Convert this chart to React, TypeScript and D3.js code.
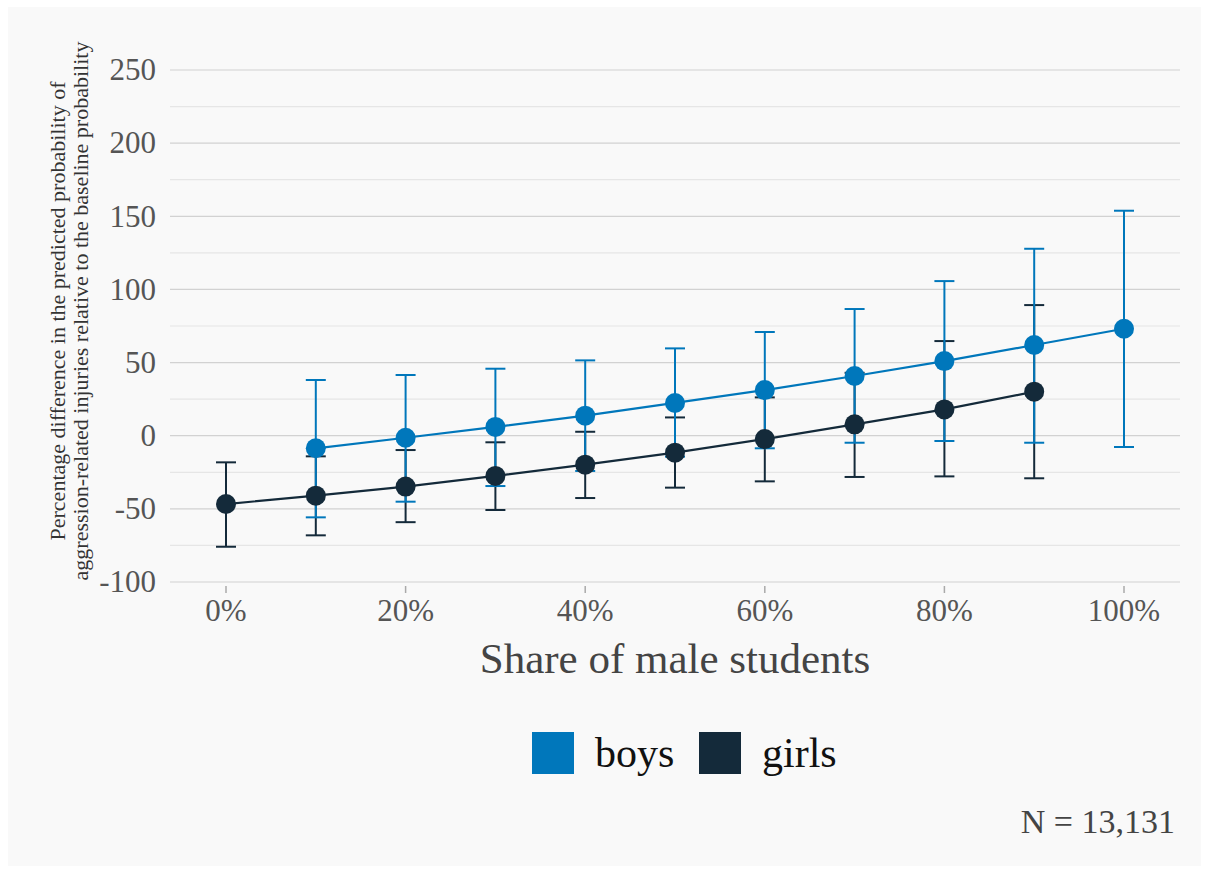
import React from "react";
import * as d3 from "d3";

// Share of male students in the class (x positions)
const shares = [0, 0.1, 0.2, 0.3, 0.4, 0.5, 0.6, 0.7, 0.8, 0.9, 1.0];

// Boys: estimate and 95% interval (no estimate at 0%)
const boysShares = [0.1, 0.2, 0.3, 0.4, 0.5, 0.6, 0.7, 0.8, 0.9, 1.0];
const boysEst = [-8.6, -1.4, 6.0, 13.7, 22.4, 31.2, 40.8, 51.0, 62.0, 73.1];
const boysLow = [-55.8, -45.1, -34.4, -24.1, -14.3, -8.6, -4.8, -3.6, -4.8, -7.7];
const boysHigh = [38.1, 41.5, 45.8, 51.5, 59.7, 70.9, 86.6, 105.7, 127.8, 153.8];

// Girls: estimate and 95% interval (no estimate at 100%)
const girlsShares = [0, 0.1, 0.2, 0.3, 0.4, 0.5, 0.6, 0.7, 0.8, 0.9];
const girlsEst = [-46.7, -41.0, -34.8, -27.5, -19.8, -11.6, -2.3, 7.8, 18.0, 30.1];
const girlsLow = [-75.9, -68.1, -59.1, -50.8, -42.6, -35.5, -31.2, -28.2, -27.8, -29.1];
const girlsHigh = [-18.2, -14.1, -9.8, -4.5, 2.7, 12.5, 26.2, 43.0, 64.7, 89.3];

const xTickLabels = ["0%", "20%", "40%", "60%", "80%", "100%"];
const xTickValues = [0, 0.2, 0.4, 0.6, 0.8, 1.0];
const yMajorTicks = [-100, -50, 0, 50, 100, 150, 200, 250];
const yMinorTicks = [-75, -25, 25, 75, 125, 175, 225];

const seriesNames = ["boys", "girls"];
const BOYS = "#0077bb";
const GIRLS = "#142a3a";

const W = 1209;
const H = 873;
const FONT = "'Liberation Serif', 'Times New Roman', serif";

export default function App() {
  const x = d3.scaleLinear().domain([0, 1]).range([226, 1124]);
  const y = d3.scaleLinear().domain([-100, 250]).range([582, 70]);
  const gridX0 = 170;
  const gridX1 = 1180;
  const capHalf = 10;

  const boys = boysShares.map((s, i) => ({
    s,
    est: boysEst[i],
    lo: boysLow[i],
    hi: boysHigh[i],
  }));
  const girls = girlsShares.map((s, i) => ({
    s,
    est: girlsEst[i],
    lo: girlsLow[i],
    hi: girlsHigh[i],
  }));

  const line = d3
    .line<{ s: number; est: number }>()
    .x((d) => x(d.s))
    .y((d) => y(d.est));

  const errorBars = (data: typeof boys, color: string, key: string) =>
    data.map((d, i) => (
      <g key={`${key}-eb-${i}`} stroke={color} strokeWidth={2}>
        <line x1={x(d.s)} x2={x(d.s)} y1={y(d.lo)} y2={y(d.hi)} />
        <line x1={x(d.s) - capHalf} x2={x(d.s) + capHalf} y1={y(d.hi)} y2={y(d.hi)} />
        <line x1={x(d.s) - capHalf} x2={x(d.s) + capHalf} y1={y(d.lo)} y2={y(d.lo)} />
      </g>
    ));

  return (
    <svg
      width={W}
      height={H}
      style={{ position: "absolute", left: 0, top: 0, display: "block" }}
      fontFamily={FONT}
    >
      <rect x={0} y={0} width={W} height={H} fill="#ffffff" />
      <rect x={8} y={7} width={1193} height={859} fill="#f9f9f9" />

      {/* grid */}
      {yMinorTicks.map((t) => (
        <line key={`mi-${t}`} x1={gridX0} x2={gridX1} y1={y(t)} y2={y(t)} stroke="#e6e6e6" strokeWidth={1.2} />
      ))}
      {yMajorTicks.map((t) => (
        <line key={`ma-${t}`} x1={gridX0} x2={gridX1} y1={y(t)} y2={y(t)} stroke="#d2d2d2" strokeWidth={1.2} />
      ))}

      {/* y tick labels */}
      {yMajorTicks.map((t) => (
        <text key={`yl-${t}`} x={156} y={y(t)} dy="0.33em" textAnchor="end" fontSize={31} fill="#555555">
          {t}
        </text>
      ))}

      {/* x ticks */}
      {xTickValues.map((v, i) => (
        <g key={`xt-${i}`}>
          <line x1={x(v)} x2={x(v)} y1={586} y2={593} stroke="#aaaaaa" strokeWidth={1.5} />
          <text x={x(v)} y={621} textAnchor="middle" fontSize={31} fill="#555555">
            {xTickLabels[i]}
          </text>
        </g>
      ))}

      {/* axis titles */}
      <text x={675} y={673} textAnchor="middle" fontSize={43} fill="#444444">
        Share of male students
      </text>
      <g transform="translate(65,311) rotate(-90)">
        <text x={0} y={0} textAnchor="middle" fontSize={22} fill="#333333">
          Percentage difference in the predicted probability of
        </text>
        <text x={0} y={23} textAnchor="middle" fontSize={22} fill="#333333">
          aggression-related injuries relative to the baseline probability
        </text>
      </g>

      {/* error bars */}
      {errorBars(girls, GIRLS, "g")}
      {errorBars(boys, BOYS, "b")}

      {/* lines and points */}
      <path d={line(girls) || ""} fill="none" stroke={GIRLS} strokeWidth={2.2} />
      {girls.map((d, i) => (
        <circle key={`gp-${i}`} cx={x(d.s)} cy={y(d.est)} r={10} fill={GIRLS} />
      ))}
      <path d={line(boys) || ""} fill="none" stroke={BOYS} strokeWidth={2.2} />
      {boys.map((d, i) => (
        <circle key={`bp-${i}`} cx={x(d.s)} cy={y(d.est)} r={10} fill={BOYS} />
      ))}

      {/* legend */}
      <rect x={532} y={732} width={42} height={42} fill={BOYS} />
      <text x={595} y={767} fontSize={42} fill="#111111">
        {seriesNames[0]}
      </text>
      <rect x={699} y={732} width={42} height={42} fill={GIRLS} />
      <text x={762} y={767} fontSize={42} fill="#111111">
        {seriesNames[1]}
      </text>

      {/* sample size */}
      <text x={1175} y={833} textAnchor="end" fontSize={34} fill="#444444">
        N = 13,131
      </text>
    </svg>
  );
}
